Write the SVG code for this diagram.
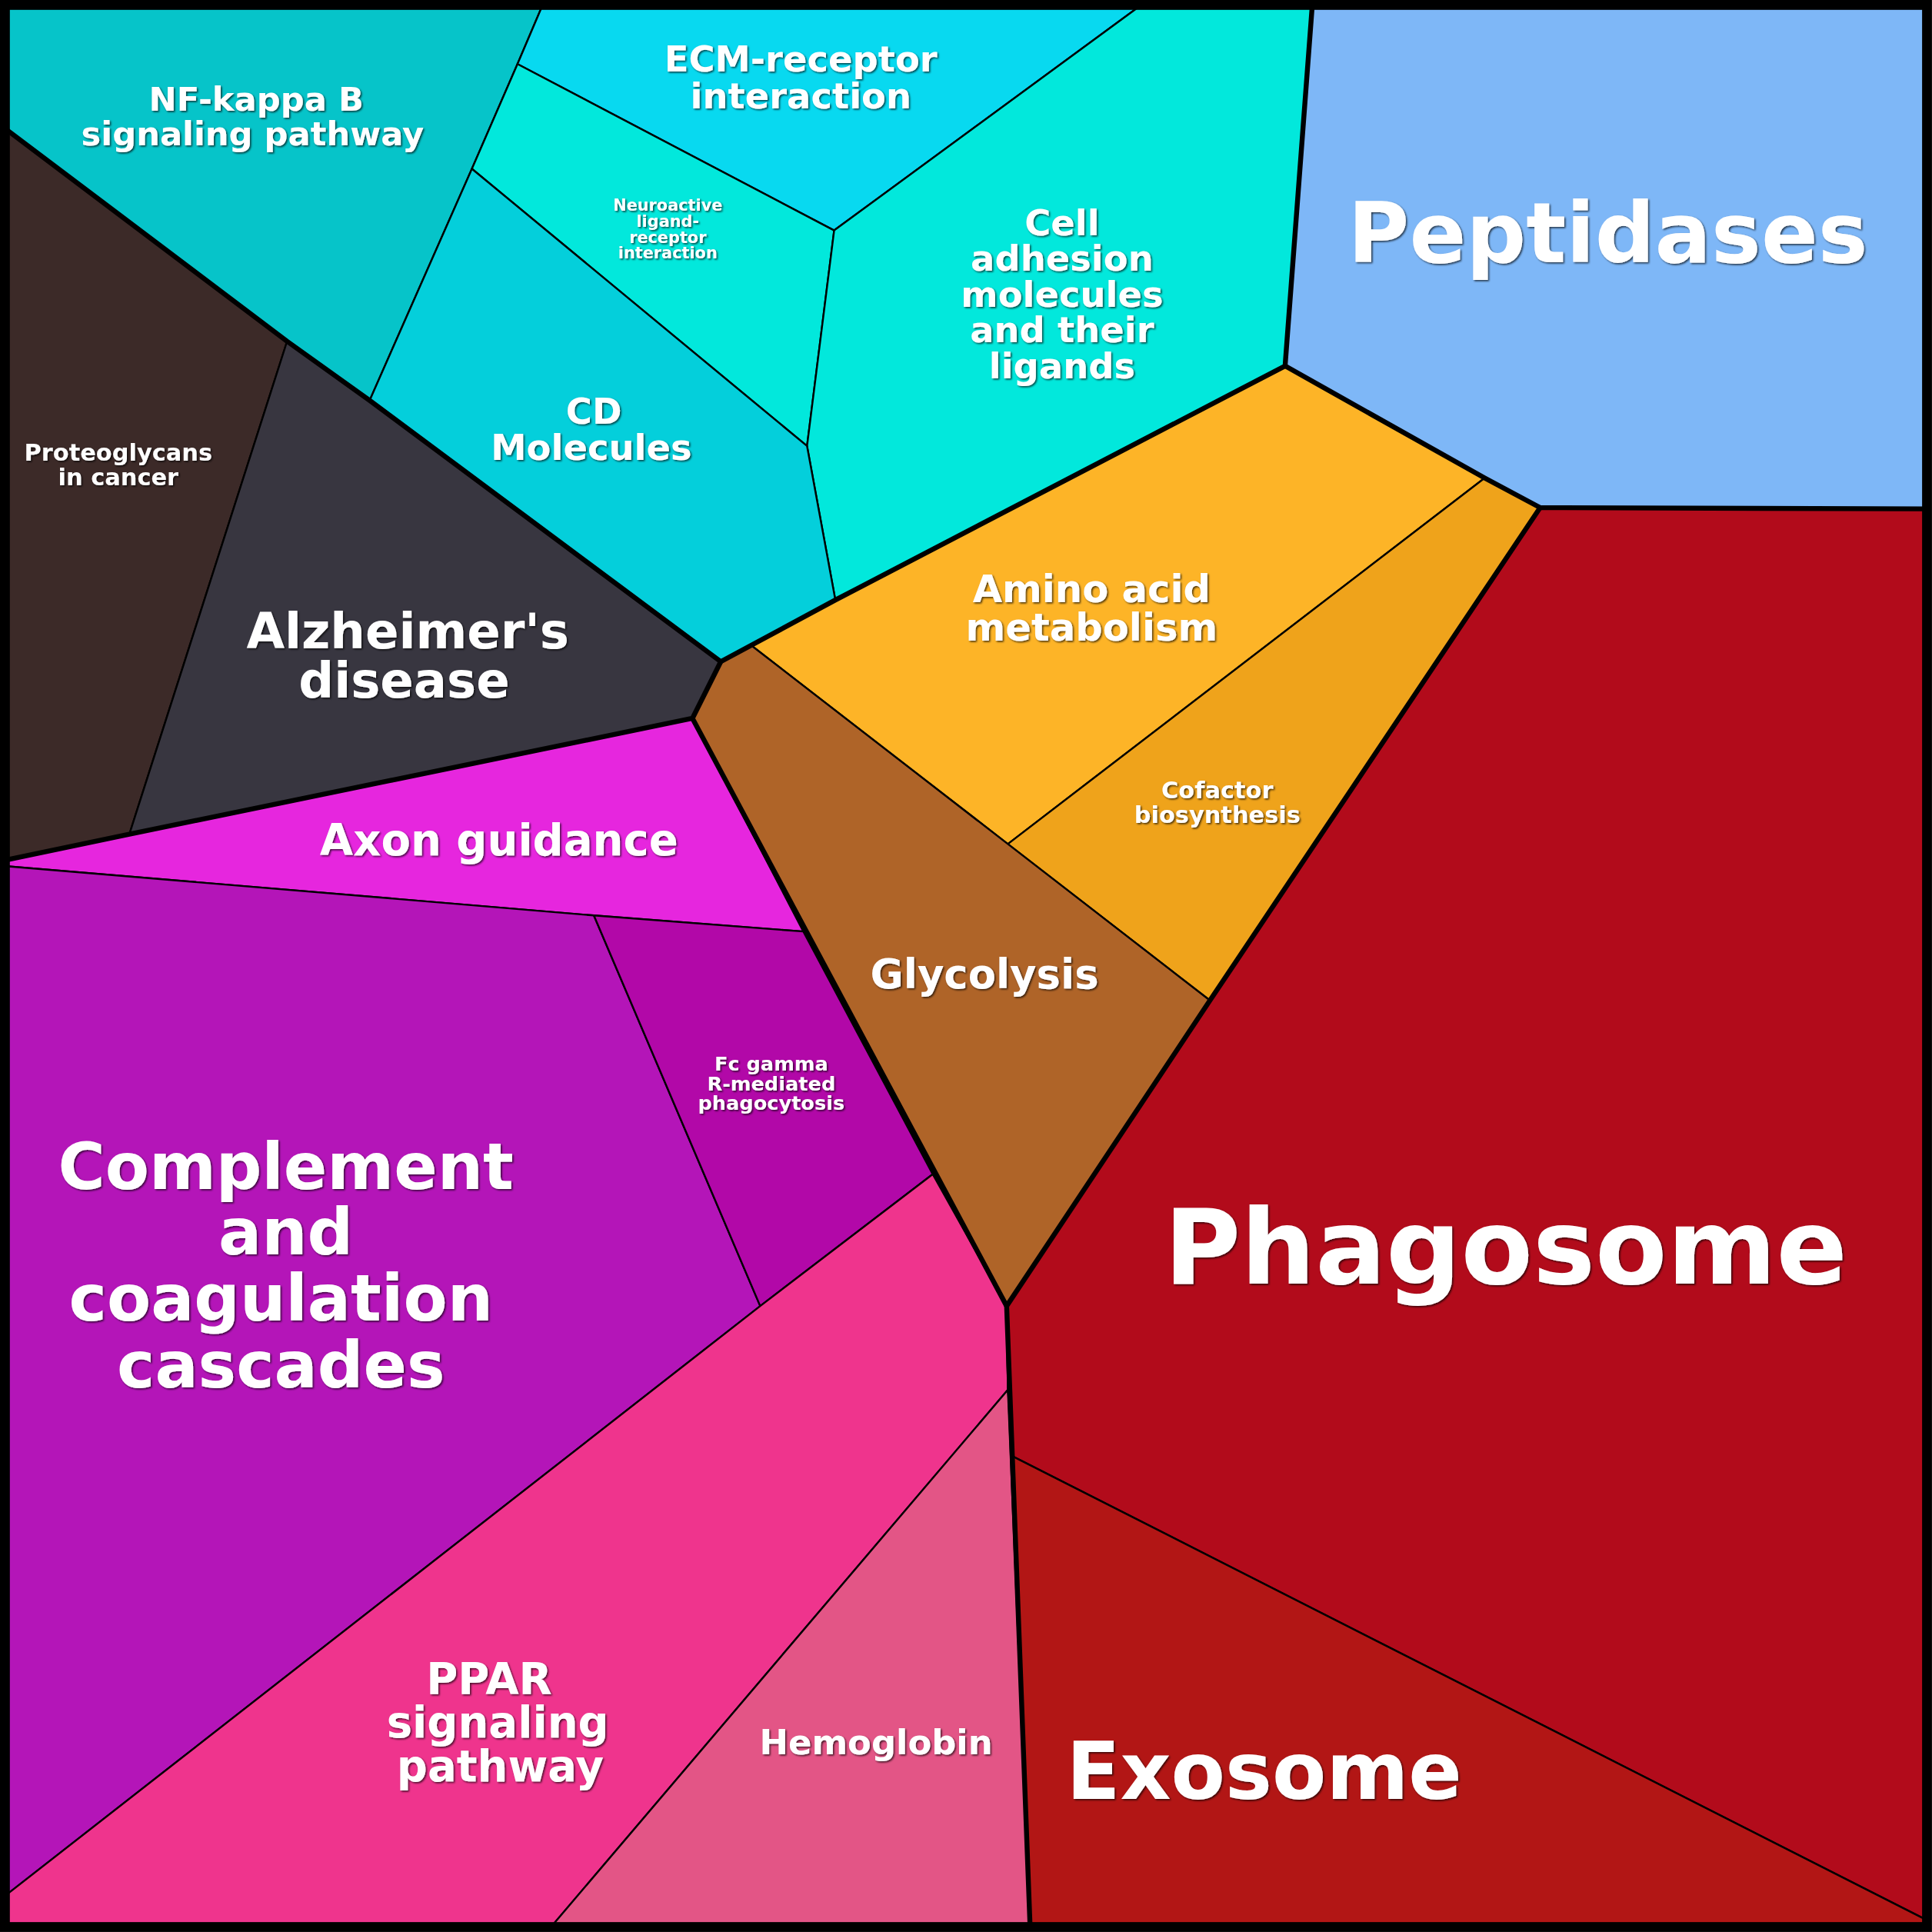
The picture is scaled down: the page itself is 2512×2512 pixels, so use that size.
<svg xmlns="http://www.w3.org/2000/svg" width="2512" height="2512" viewBox="0 0 2512 2512">
<style>
.c{stroke:#000;stroke-width:1.5;stroke-linejoin:round}
.t{stroke:#000;stroke-width:4;fill:none;stroke-linejoin:round;stroke-linecap:round}
text{font-family:"DejaVu Sans",sans-serif;font-weight:bold;fill:#fff;text-anchor:middle;filter:url(#sh)}
</style>
<defs><filter id="sh"><feDropShadow dx="1" dy="1" stdDeviation="0.6" flood-color="#000" flood-opacity="0.7"/></filter></defs>
<g transform="scale(1.602)">
<g id="nfkb"><polygon class="c" fill="#06c4c9" points="5,5 440,5 420,52 383,137 300,325 233,277 5,105"/><text font-size="27" x="208" y="90">NF-kappa B</text><text font-size="27" x="205" y="118">signaling pathway</text></g>
<g id="ecm"><polygon class="c" fill="#08d9f0" points="440,5 925,5 677,187 420,52"/><text font-size="29" x="650" y="58">ECM-receptor</text><text font-size="29" x="650" y="88">interaction</text></g>
<g id="neuro"><polygon class="c" fill="#02e8dc" points="420,52 677,187 655,362 383,137"/><text font-size="13" x="542" y="171">Neuroactive</text><text font-size="13" x="542" y="184">ligand-</text><text font-size="13" x="542" y="197">receptor</text><text font-size="13" x="542" y="210">interaction</text></g>
<g id="cam"><polygon class="c" fill="#02e8dc" points="925,5 1065,5 1043,297 678,487 655,362 677,187"/><text font-size="29" x="862" y="191">Cell</text><text font-size="29" x="862" y="220">adhesion</text><text font-size="29" x="862" y="249">molecules</text><text font-size="29" x="862" y="278">and their</text><text font-size="29" x="862" y="307">ligands</text></g>
<g id="cd"><polygon class="c" fill="#04cfdb" points="383,137 655,362 678,487 585,537 300,325"/><text font-size="29" x="482" y="344">CD</text><text font-size="29" x="480" y="373">Molecules</text></g>
<g id="pep"><polygon class="c" fill="#7eb7f7" points="1065,5 1563,5 1563,413 1250,412 1205,388 1043,297"/><text font-size="68" x="1305" y="213">Peptidases</text></g>
<g id="proteo"><polygon class="c" fill="#3c2a28" points="5,105 233,277 105,677 5,698"/><text font-size="19" x="96" y="374">Proteoglycans</text><text font-size="19" x="96" y="394">in cancer</text></g>
<g id="alz"><polygon class="c" fill="#383640" points="233,277 300,325 585,537 562,583 105,677"/><text font-size="40" x="331" y="526">Alzheimer's</text><text font-size="40" x="328" y="566">disease</text></g>
<g id="amino"><polygon class="c" fill="#fdb427" points="610,524 678,487 1043,297 1205,388 818,685"/><text font-size="31" x="886" y="489">Amino acid</text><text font-size="31" x="886" y="520">metabolism</text></g>
<g id="cof"><polygon class="c" fill="#efa31b" points="1205,388 1250,412 982,812 818,685"/><text font-size="19" x="988" y="648">Cofactor</text><text font-size="19" x="988" y="668">biosynthesis</text></g>
<g id="gly"><polygon class="c" fill="#af6428" points="585,537 610,524 818,685 982,812 817,1060 757,953 652,756 562,583"/><text font-size="33" x="799" y="802">Glycolysis</text></g>
<g id="axon"><polygon class="c" fill="#e626de" points="5,698 105,677 562,583 652,756 482,743 5,703"/><text font-size="35" x="405" y="694">Axon guidance</text></g>
<g id="comp"><polygon class="c" fill="#b415b8" points="5,703 482,743 617,1060 5,1538"/><text font-size="52" x="232" y="965">Complement</text><text font-size="52" x="232" y="1018">and</text><text font-size="52" x="228" y="1072">coagulation</text><text font-size="52" x="228" y="1126">cascades</text></g>
<g id="fc"><polygon class="c" fill="#b208a8" points="482,743 652,756 757,953 617,1060"/><text font-size="16" x="626" y="869">Fc gamma</text><text font-size="16" x="626" y="885">R-mediated</text><text font-size="16" x="626" y="901">phagocytosis</text></g>
<g id="ppar"><polygon class="c" fill="#ef348d" points="617,1060 757,953 817,1060 818,1128 448,1563 5,1563 5,1538"/><text font-size="35" x="397" y="1375">PPAR</text><text font-size="35" x="404" y="1410">signaling</text><text font-size="35" x="406" y="1446">pathway</text></g>
<g id="hemo"><polygon class="c" fill="#e35586" points="818,1128 836,1563 448,1563"/><text font-size="28" x="711" y="1424">Hemoglobin</text></g>
<g id="phago"><polygon class="c" fill="#b20b1b" points="1250,412 1563,413 1563,1558 822,1182 818,1128 817,1060 982,812"/><text font-size="85" x="1222" y="1042">Phagosome</text></g>
<g id="exo"><polygon class="c" fill="#b21615" points="822,1182 1563,1558 1563,1563 836,1563"/><text font-size="64" x="1026" y="1460">Exosome</text></g>
<g id="connectors">
<polyline class="t" points="5,105 233,277 300,325 585,537 678,487 1043,297 1065,5"/>
<polyline class="t" points="1043,297 1205,388 1250,412 1563,413"/>
<polyline class="t" points="5,698 105,677 562,583 585,537"/>
<polyline class="t" points="562,583 817,1060 836,1563"/>
<polyline class="t" points="1250,412 982,812 817,1060"/>
<rect x="4" y="4" width="1560" height="1560" fill="none" stroke="#000" stroke-width="8"/>
</g>
</g>
</svg>
